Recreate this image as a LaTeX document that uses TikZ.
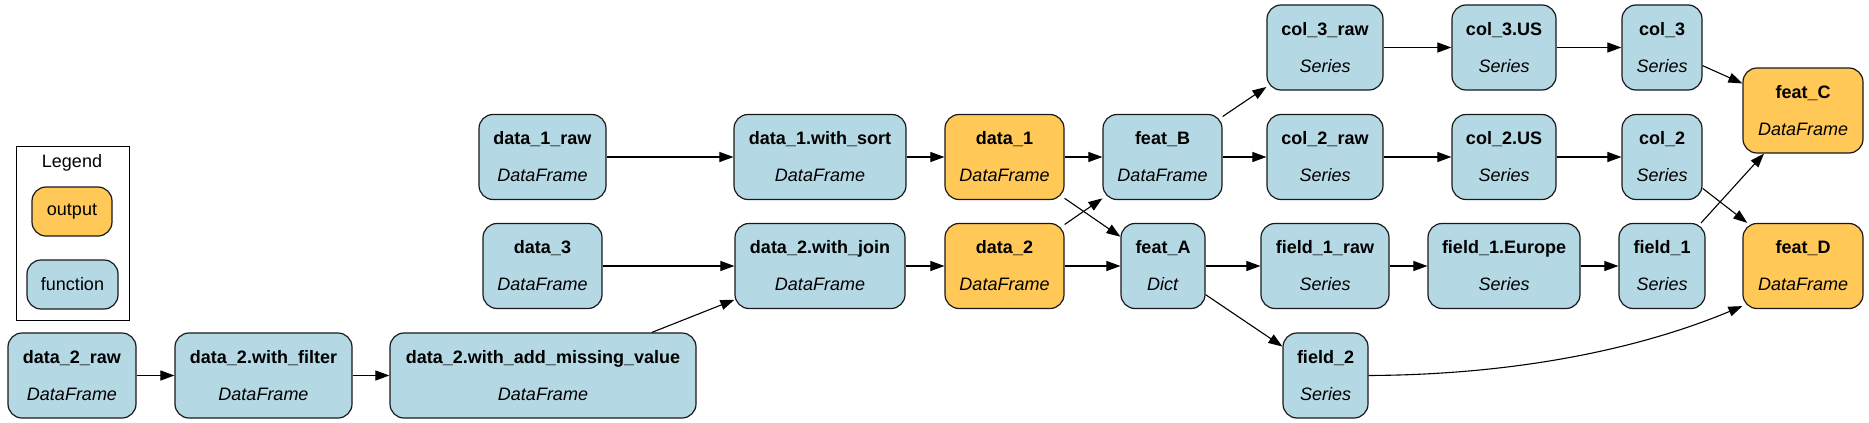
\documentclass[tikz,border=0pt]{standalone}
\usepackage{fontspec}
\setmainfont{Liberation Sans}
\usetikzlibrary{arrows.meta}
\definecolor{fnblue}{HTML}{B4D8E4}
\definecolor{outorange}{HTML}{FFC857}
\newcommand\twoline[2]{\textbf{#1}\\\textit{#2}}
\begin{document}
\begin{tikzpicture}[x=1pt,y=-1pt,
  box/.style={draw=black!90, line width=1.2pt, rounded corners=14pt, minimum height=85pt,
    inner xsep=2pt, inner ysep=0pt, align=center, font=\fontsize{18}{37}\selectfont},
  fn/.style={box, fill=fnblue},
  outbox/.style={box, fill=outorange},
  legbox/.style={draw=black!90, line width=1.2pt, rounded corners=14pt, minimum height=49pt,
    inner sep=0pt, font=\fontsize{18}{22}\selectfont},
  conn/.style={draw=black, line width=1.1pt, -{Triangle[length=14pt,width=10pt]}},
]
\useasboundingbox (0,0) rectangle (1869,423);

% legend
\node[draw=black, line width=1pt, minimum width=113pt, minimum height=174pt, inner sep=0pt] (legend) at (72.5,233) {};
\node[font=\fontsize{18}{22}\selectfont, inner sep=0pt] (legtitle) at (72,163) {Legend};
\node[legbox, fill=outorange, minimum width=80pt] (legout) at (72,211.5) {output};
\node[legbox, fill=fnblue, minimum width=91pt] (legfn) at (72.5,284.5) {function};

% row 3
\node[fn, minimum width=128pt] (d2raw) at (72,375.5) {\twoline{data\_2\_raw}{DataFrame}};
\node[fn, minimum width=177pt] (d2filter) at (263.5,375.5) {\twoline{data\_2.with\_filter}{DataFrame}};
\node[fn, minimum width=306pt] (d2miss) at (543,375.5) {\twoline{data\_2.with\_add\_missing\_value}{DataFrame}};
\node[fn, minimum width=85pt] (field2) at (1325.5,375.5) {\twoline{field\_2}{Series}};

% row 1 / 2
\node[fn, minimum width=127pt] (d1raw) at (542.5,157) {\twoline{data\_1\_raw}{DataFrame}};
\node[fn, minimum width=119pt] (d3) at (542.5,266) {\twoline{data\_3}{DataFrame}};
\node[fn, minimum width=172pt] (d1sort) at (820,157) {\twoline{data\_1.with\_sort}{DataFrame}};
\node[fn, minimum width=170pt] (d2join) at (820,266) {\twoline{data\_2.with\_join}{DataFrame}};
\node[outbox, minimum width=119pt] (d1) at (1004.5,157) {\twoline{data\_1}{DataFrame}};
\node[outbox, minimum width=119pt] (d2) at (1004.5,266) {\twoline{data\_2}{DataFrame}};
\node[fn, minimum width=119pt] (featB) at (1162.5,157) {\twoline{feat\_B}{DataFrame}};
\node[fn, minimum width=84pt] (featA) at (1163,266) {\twoline{feat\_A}{Dict}};

% right part
\node[fn, minimum width=116pt] (col3raw) at (1325,47.5) {\twoline{col\_3\_raw}{Series}};
\node[fn, minimum width=116pt] (col2raw) at (1325,157) {\twoline{col\_2\_raw}{Series}};
\node[fn, minimum width=128pt] (f1raw) at (1325,266) {\twoline{field\_1\_raw}{Series}};
\node[fn, minimum width=104pt] (col3us) at (1504,47.5) {\twoline{col\_3.US}{Series}};
\node[fn, minimum width=104pt] (col2us) at (1504,157) {\twoline{col\_2.US}{Series}};
\node[fn, minimum width=152pt] (f1eu) at (1504,266) {\twoline{field\_1.Europe}{Series}};
\node[fn, minimum width=80pt] (col3) at (1662,47.5) {\twoline{col\_3}{Series}};
\node[fn, minimum width=80pt] (col2) at (1662,157) {\twoline{col\_2}{Series}};
\node[fn, minimum width=86pt] (field1) at (1662,266) {\twoline{field\_1}{Series}};
\node[outbox, minimum width=120pt] (featC) at (1803,110.5) {\twoline{feat\_C}{DataFrame}};
\node[outbox, minimum width=120pt] (featD) at (1803,266) {\twoline{feat\_D}{DataFrame}};

% edges
\draw[conn] (d2raw) -- (d2filter);
\draw[conn] (d2filter) -- (d2miss);
\draw[conn] (d2miss) -- (d2join);
\draw[conn] (d1raw) -- (d1sort);
\draw[conn] (d3) -- (d2join);
\draw[conn] (d1sort) -- (d1);
\draw[conn] (d2join) -- (d2);
\draw[conn] (d1) -- (featB);
\draw[conn] (d1) -- (featA);
\draw[conn] (d2) -- (featB);
\draw[conn] (d2) -- (featA);
\draw[conn] (featB) -- (col3raw);
\draw[conn] (featB) -- (col2raw);
\draw[conn] (featA) -- (f1raw);
\draw[conn] (featA) -- (field2);
\draw[conn] (col3raw) -- (col3us);
\draw[conn] (col3us) -- (col3);
\draw[conn] (col2raw) -- (col2us);
\draw[conn] (col2us) -- (col2);
\draw[conn] (f1raw) -- (f1eu);
\draw[conn] (f1eu) -- (field1);
\draw[conn] (col3) -- (featC);
\draw[conn] (field1) -- (featC);
\draw[conn] (col2) -- (featD);
\draw[conn] (field2.east) .. controls +(200,-1) and +(-53,22) .. ([yshift=3pt]featD.south west);
\end{tikzpicture}
\end{document}
